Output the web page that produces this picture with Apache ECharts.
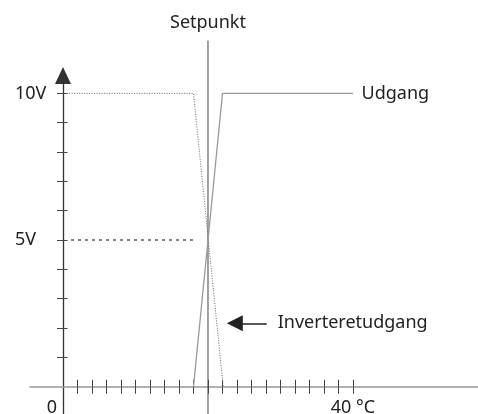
<!DOCTYPE html>
<html>
<head>
<meta charset="utf-8">
<script src="https://cdn.jsdelivr.net/npm/echarts@6/dist/echarts.min.js"></script>
<style>
  html, body { margin: 0; padding: 0; background: #fff; }
  #chart { width: 478px; height: 414px; }
</style>
</head>
<body>
<div id="chart"></div>
<script>
// tick positions (°C and V)
const tempTicks = [2, 4, 6, 8, 10, 12, 14, 16, 18, 20, 22, 24, 26, 28, 30, 32, 34, 36, 38, 40];
const tempLabels = [0, 40];
const voltTicks = [1, 2, 3, 4, 5, 6, 7, 8, 9, 10];
const voltLabels = [5, 10];

// lines: [°C, V]
const udgang = [[18, 0], [22, 10], [40, 10]];
const inverteret = [[0.5, 10], [18, 10], [22.1, 0]];
const halvdel = [[1.1, 5], [18.2, 5]];
const setpunkt = [[20, -0.95], [20, 11.8]];
const pil = [[23.7, 2.16], [28.1, 2.16]];

const font = '"Noto Sans", sans-serif';
const txt = '#222';

const chart = echarts.init(document.getElementById('chart'));

const xBase = {
  type: 'value',
  min: -4.55,
  max: 57.24,
  position: 'bottom',
  splitLine: { show: false }
};
const yBase = {
  type: 'value',
  min: -0.93,
  max: 10.61,
  position: 'left',
  splitLine: { show: false }
};

// invisible point that only carries a text label
const tag = (p, text, position) => ({
  value: p,
  symbol: 'circle',
  symbolSize: 1,
  itemStyle: { color: 'rgba(0,0,0,0)' },
  label: { show: true, position: position, distance: 8, formatter: text }
});

const option = {
  animation: false,
  grid: { left: 30, right: 0, top: 75.5, bottom: 0, containLabel: false, outerBoundsMode: 'none' },
  xAxis: [
    Object.assign({}, xBase, {
      axisLine: { onZero: true, lineStyle: { color: '#999', width: 1.5 } },
      axisTick: { customValues: tempTicks, length: 7, lineStyle: { color: '#444', width: 1 } },
      axisLabel: {
        customValues: tempLabels,
        formatter: v => (v === 0 ? '{z|0}' : v + ' °C'),
        margin: -15,
        color: txt, fontFamily: font, fontSize: 18,
        rich: { z: { padding: [0, 22, 0, 0], color: txt, fontFamily: font, fontSize: 18 } }
      }
    }),
    Object.assign({}, xBase, {
      axisLine: { show: false, onZero: true },
      axisTick: { customValues: tempTicks, inside: true, length: 7, lineStyle: { color: '#444', width: 1 } },
      axisLabel: { show: false }
    })
  ],
  yAxis: [
    Object.assign({}, yBase, {
      axisLine: {
        onZero: true,
        symbol: ['none', 'triangle'],
        symbolSize: [16, 17],
        lineStyle: { color: '#333', width: 1.3 }
      },
      axisTick: { customValues: voltTicks, length: 6, lineStyle: { color: '#444', width: 1 } },
      axisLabel: {
        customValues: voltLabels,
        formatter: v => '{v|' + v + 'V}',
        margin: -19,
        color: txt, fontFamily: font, fontSize: 18,
        rich: { v: { width: 34, align: 'left', color: txt, fontFamily: font, fontSize: 18 } }
      }
    }),
    Object.assign({}, yBase, {
      axisLine: { show: false, onZero: true },
      axisTick: { customValues: voltTicks, inside: true, length: 4.5, lineStyle: { color: '#444', width: 1 } },
      axisLabel: { show: false }
    })
  ],
  series: [
    {
      name: 'Setpunkt',
      type: 'line',
      data: [setpunkt[0], tag(setpunkt[1], 'Setpunkt', 'top')],
      showSymbol: true,
      symbol: 'none',
      clip: false,
      lineStyle: { color: '#444', width: 1 },
      label: { color: txt, fontFamily: font, fontSize: 18 }
    },
    {
      name: '5V',
      type: 'line',
      data: halvdel,
      symbol: 'none',
      lineStyle: { color: '#555', width: 1.5, type: [3, 4] }
    },
    {
      name: 'Inverteret udgang',
      type: 'line',
      data: inverteret,
      symbol: 'none',
      lineStyle: { color: '#666', width: 1, type: [1, 1.5] }
    },
    {
      name: 'Udgang',
      type: 'line',
      data: [udgang[0], udgang[1], tag(udgang[2], 'Udgang', 'right')],
      showSymbol: true,
      symbol: 'none',
      lineStyle: { color: '#999', width: 1.3 },
      label: { color: txt, fontFamily: font, fontSize: 18 }
    },
    {
      name: 'pil',
      type: 'line',
      data: [],
      markLine: {
        silent: true,
        symbol: ['triangle', 'none'],
        symbolSize: 16,
        lineStyle: { color: '#222', width: 1.5, type: 'solid' },
        label: {
          show: true,
          position: 'end',
          distance: 11,
          formatter: 'Inverteretudgang',
          color: txt, fontFamily: font, fontSize: 18
        },
        data: [[{ coord: pil[0] }, { coord: pil[1] }]]
      }
    }
  ]
};

chart.setOption(option);
</script>
</body>
</html>
